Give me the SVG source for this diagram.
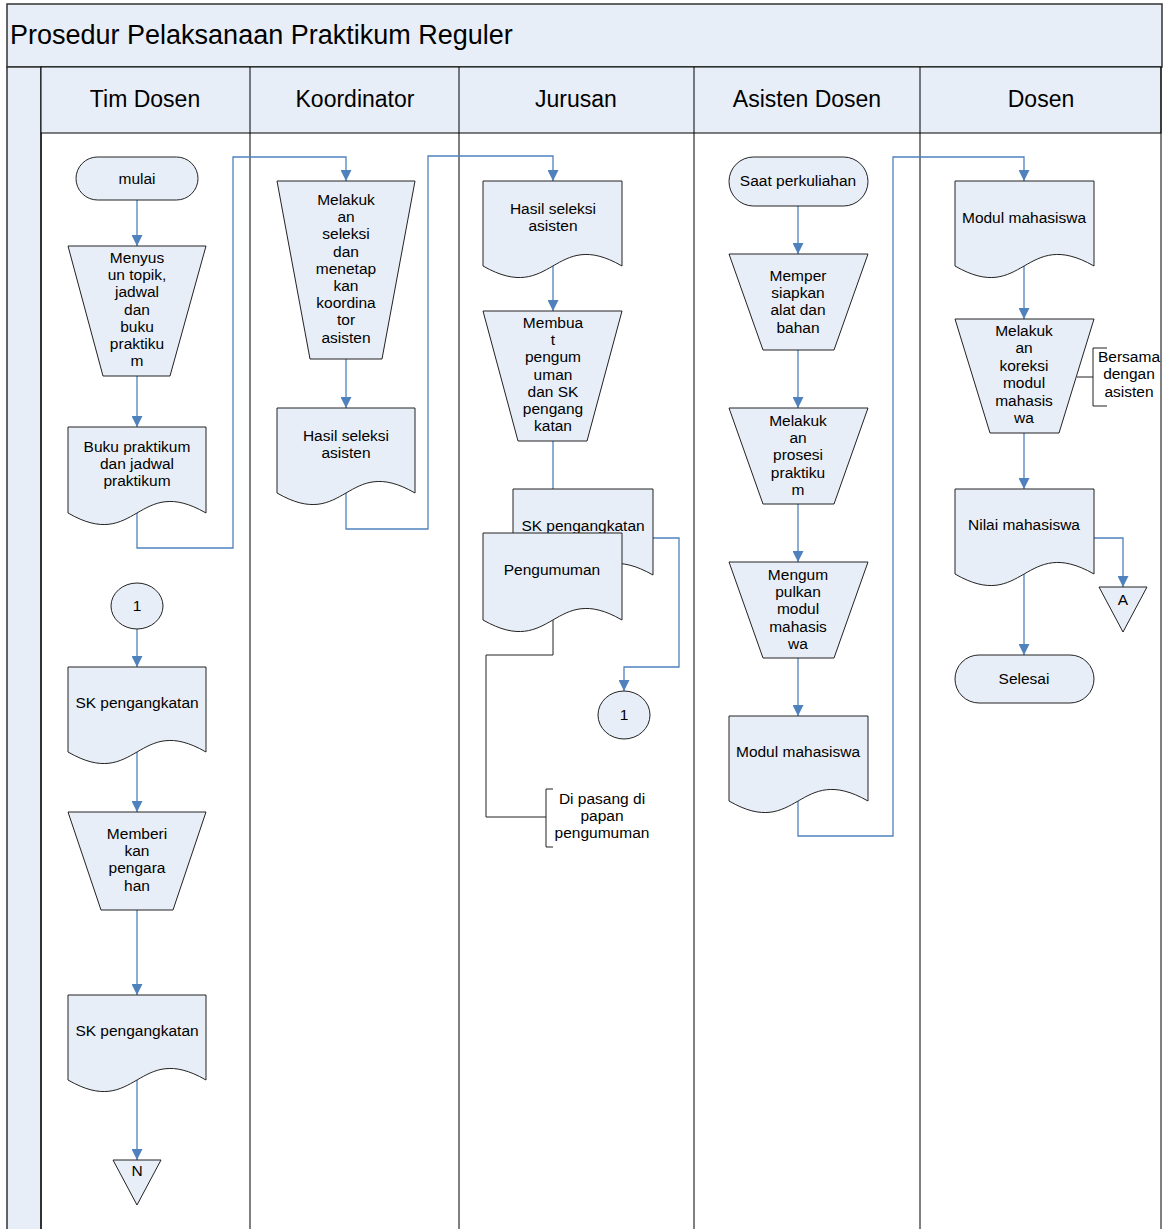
<svg xmlns="http://www.w3.org/2000/svg" width="1165" height="1229" viewBox="0 0 1165 1229">
<style>
.shape{fill:#E8EEF7;stroke:#222;stroke-width:1}
.t{font-family:"Liberation Sans",Arial,sans-serif;font-size:15.5px;fill:#000;text-anchor:middle}
.hd{font-family:"Liberation Sans",Arial,sans-serif;font-size:23px;fill:#000;text-anchor:middle}
.ttl{font-family:"Liberation Sans",Arial,sans-serif;font-size:27px;fill:#000}
.c{fill:none;stroke:#4F81BD;stroke-width:1.3}
.ca{fill:none;stroke:#4F81BD;stroke-width:1.3;marker-end:url(#arr)}
.k{fill:none;stroke:#222;stroke-width:1}
.lane{fill:none;stroke:#000;stroke-width:1}
</style>
<defs>
<marker id="arr" viewBox="0 0 10 10" refX="10" refY="5" markerWidth="11" markerHeight="11" markerUnits="userSpaceOnUse" orient="auto">
<path d="M0,0 L10,5 L0,10 z" fill="#4F81BD"/>
</marker>
</defs>
<rect x="0" y="0" width="1165" height="1229" fill="#fff"/>
<g id="frame">
<rect x="7" y="4" width="1155" height="63" fill="#E8EEF7" stroke="#333" stroke-width="1.5"/>
<text class="ttl" x="10" y="44">Prosedur Pelaksanaan Praktikum Reguler</text>
<rect x="7" y="67" width="34" height="1170" fill="#E8EEF7" stroke="#333" stroke-width="1.5"/>
<rect x="41" y="67" width="1120" height="66" fill="#E8EEF7" stroke="#000" stroke-width="1"/>
<line class="lane" x1="1161" y1="67" x2="1161" y2="1229" stroke-width="1.5"/>
<line class="lane" x1="41" y1="133" x2="41" y2="1229"/>
<line class="lane" x1="250" y1="67" x2="250" y2="1229"/>
<line class="lane" x1="459" y1="67" x2="459" y2="1229"/>
<line class="lane" x1="694" y1="67" x2="694" y2="1229"/>
<line class="lane" x1="920" y1="67" x2="920" y2="1229"/>
<text class="hd" x="145" y="107">Tim Dosen</text>
<text class="hd" x="355" y="107">Koordinator</text>
<text class="hd" x="576" y="107">Jurusan</text>
<text class="hd" x="807" y="107">Asisten Dosen</text>
<text class="hd" x="1041" y="107">Dosen</text>
</g>
<g id="connectors">
<path class="ca" d="M137,200 V246"/>
<path class="ca" d="M137,376 V427"/>
<path class="ca" d="M137,513 V548 H233 V157 H346 V181"/>
<path class="ca" d="M346,359 V408"/>
<path class="ca" d="M346,493 V529 H428 V156 H553 V181"/>
<path class="ca" d="M553,266 V311"/>
<path class="c" d="M553,441 V489"/>
<path class="ca" d="M653,538 H679 V667 H624 V691"/>
<path class="k" d="M553,620 V655 H486 V817 H546"/>
<path class="k" d="M553,789 H546 V847 H553"/>
<path class="ca" d="M137,629 V667"/>
<path class="ca" d="M137,752 V812"/>
<path class="ca" d="M137,910 V995"/>
<path class="ca" d="M137,1080 V1160"/>
<path class="ca" d="M798,206 V254"/>
<path class="ca" d="M798,350 V408"/>
<path class="ca" d="M798,504 V562"/>
<path class="ca" d="M798,658 V716"/>
<path class="ca" d="M798,801 V836 H893 V157 H1024 V181"/>
<path class="ca" d="M1024,266 V319"/>
<path class="ca" d="M1024,433 V489"/>
<path class="ca" d="M1094,538 H1123 V587"/>
<path class="ca" d="M1024,574 V655"/>
<path class="k" d="M1077,377 H1093"/>
<path class="k" d="M1107,348 H1093 V406 H1107"/>
</g>
<g id="n-mulai">
<rect class="shape" x="76" y="157" width="122" height="43" rx="21.5"/>
<text class="t" x="137" y="184">mulai</text>
</g>
<g id="n-menyusun">
<path class="shape" d="M68,246 H206 L170,376 H103 Z"/>
<text class="t" x="137" y="263"><tspan x="137">Menyus</tspan><tspan x="137" dy="17.2">un topik,</tspan><tspan x="137" dy="17.2">jadwal</tspan><tspan x="137" dy="17.2">dan</tspan><tspan x="137" dy="17.2">buku</tspan><tspan x="137" dy="17.2">praktiku</tspan><tspan x="137" dy="17.2">m</tspan></text>
</g>
<g id="n-buku">
<path class="shape" d="M68,427 H206 V513 C137,473 137,553 68,513 Z"/>
<text class="t" x="137" y="452"><tspan x="137">Buku praktikum</tspan><tspan x="137" dy="17.2">dan jadwal</tspan><tspan x="137" dy="17.2">praktikum</tspan></text>
</g>
<g id="n-con1a">
<ellipse class="shape" cx="137" cy="606" rx="26" ry="23"/>
<text class="t" x="137" y="611">1</text>
</g>
<g id="n-sk1">
<path class="shape" d="M68,667 H206 V752 C137,712 137,792 68,752 Z"/>
<text class="t" x="137" y="708">SK pengangkatan</text>
</g>
<g id="n-memberikan">
<path class="shape" d="M68,812 H206 L173,910 H101 Z"/>
<text class="t" x="137" y="839"><tspan x="137">Memberi</tspan><tspan x="137" dy="17.2">kan</tspan><tspan x="137" dy="17.2">pengara</tspan><tspan x="137" dy="17.2">han</tspan></text>
</g>
<g id="n-sk2">
<path class="shape" d="M68,995 H206 V1080 C137,1040 137,1120 68,1080 Z"/>
<text class="t" x="137" y="1036">SK pengangkatan</text>
</g>
<g id="n-offN">
<path class="shape" d="M113,1160 H161 L137,1205 Z"/>
<text class="t" x="137" y="1176">N</text>
</g>
<g id="n-seleksi">
<path class="shape" d="M277,181 H415 L382,359 H310 Z"/>
<text class="t" x="346" y="205"><tspan x="346">Melakuk</tspan><tspan x="346" dy="17.2">an</tspan><tspan x="346" dy="17.2">seleksi</tspan><tspan x="346" dy="17.2">dan</tspan><tspan x="346" dy="17.2">menetap</tspan><tspan x="346" dy="17.2">kan</tspan><tspan x="346" dy="17.2">koordina</tspan><tspan x="346" dy="17.2">tor</tspan><tspan x="346" dy="17.2">asisten</tspan></text>
</g>
<g id="n-hasil1">
<path class="shape" d="M277,408 H415 V493 C346,453 346,533 277,493 Z"/>
<text class="t" x="346" y="441"><tspan x="346">Hasil seleksi</tspan><tspan x="346" dy="17.2">asisten</tspan></text>
</g>
<g id="n-hasil2">
<path class="shape" d="M483,181 H622 V266 C553,226 553,306 483,266 Z"/>
<text class="t" x="553" y="214"><tspan x="553">Hasil seleksi</tspan><tspan x="553" dy="17.2">asisten</tspan></text>
</g>
<g id="n-membuat">
<path class="shape" d="M483,311 H622 L587,441 H518 Z"/>
<text class="t" x="553" y="328"><tspan x="553">Membua</tspan><tspan x="553" dy="17.2">t</tspan><tspan x="553" dy="17.2">pengum</tspan><tspan x="553" dy="17.2">uman</tspan><tspan x="553" dy="17.2">dan SK</tspan><tspan x="553" dy="17.2">pengang</tspan><tspan x="553" dy="17.2">katan</tspan></text>
</g>
<g id="n-multidoc">
<path class="shape" d="M513,489 H653 V575 C583,535 583,615 513,575 Z"/>
<text class="t" x="583" y="531">SK pengangkatan</text>
<path class="shape" d="M483,533 H622 V620 C553,580 553,660 483,620 Z"/>
<text class="t" x="552" y="575">Pengumuman</text>
</g>
<g id="n-note1">
<text class="t" x="602" y="804"><tspan x="602">Di pasang di</tspan><tspan x="602" dy="17.2">papan</tspan><tspan x="602" dy="17.2">pengumuman</tspan></text>
</g>
<g id="n-con1b">
<ellipse class="shape" cx="624" cy="715" rx="26" ry="24"/>
<text class="t" x="624" y="720">1</text>
</g>
<g id="n-saat">
<rect class="shape" x="729" y="157" width="139" height="49" rx="24.5"/>
<text class="t" x="798" y="186">Saat perkuliahan</text>
</g>
<g id="n-mempersiapkan">
<path class="shape" d="M729,254 H868 L834,350 H763 Z"/>
<text class="t" x="798" y="281"><tspan x="798">Memper</tspan><tspan x="798" dy="17.2">siapkan</tspan><tspan x="798" dy="17.2">alat dan</tspan><tspan x="798" dy="17.2">bahan</tspan></text>
</g>
<g id="n-prosesi">
<path class="shape" d="M729,408 H868 L834,504 H763 Z"/>
<text class="t" x="798" y="426"><tspan x="798">Melakuk</tspan><tspan x="798" dy="17.2">an</tspan><tspan x="798" dy="17.2">prosesi</tspan><tspan x="798" dy="17.2">praktiku</tspan><tspan x="798" dy="17.2">m</tspan></text>
</g>
<g id="n-mengumpulkan">
<path class="shape" d="M729,562 H868 L834,658 H763 Z"/>
<text class="t" x="798" y="580"><tspan x="798">Mengum</tspan><tspan x="798" dy="17.2">pulkan</tspan><tspan x="798" dy="17.2">modul</tspan><tspan x="798" dy="17.2">mahasis</tspan><tspan x="798" dy="17.2">wa</tspan></text>
</g>
<g id="n-modul1">
<path class="shape" d="M729,716 H868 V801 C798,761 798,841 729,801 Z"/>
<text class="t" x="798" y="757">Modul mahasiswa</text>
</g>
<g id="n-modul2">
<path class="shape" d="M955,181 H1094 V266 C1024,226 1024,306 955,266 Z"/>
<text class="t" x="1024" y="223">Modul mahasiswa</text>
</g>
<g id="n-koreksi">
<path class="shape" d="M955,319 H1094 L1059,433 H990 Z"/>
<text class="t" x="1024" y="336"><tspan x="1024">Melakuk</tspan><tspan x="1024" dy="17.4">an</tspan><tspan x="1024" dy="17.4">koreksi</tspan><tspan x="1024" dy="17.4">modul</tspan><tspan x="1024" dy="17.4">mahasis</tspan><tspan x="1024" dy="17.4">wa</tspan></text>
</g>
<g id="n-note2">
<text class="t" x="1129" y="362"><tspan x="1129">Bersama</tspan><tspan x="1129" dy="17.4">dengan</tspan><tspan x="1129" dy="17.4">asisten</tspan></text>
</g>
<g id="n-nilai">
<path class="shape" d="M955,489 H1094 V574 C1024,534 1024,614 955,574 Z"/>
<text class="t" x="1024" y="530">Nilai mahasiswa</text>
</g>
<g id="n-offA">
<path class="shape" d="M1099,587 H1147 L1123,632 Z"/>
<text class="t" x="1123" y="605">A</text>
</g>
<g id="n-selesai">
<rect class="shape" x="955" y="655" width="139" height="48" rx="24"/>
<text class="t" x="1024" y="684">Selesai</text>
</g>
</svg>
